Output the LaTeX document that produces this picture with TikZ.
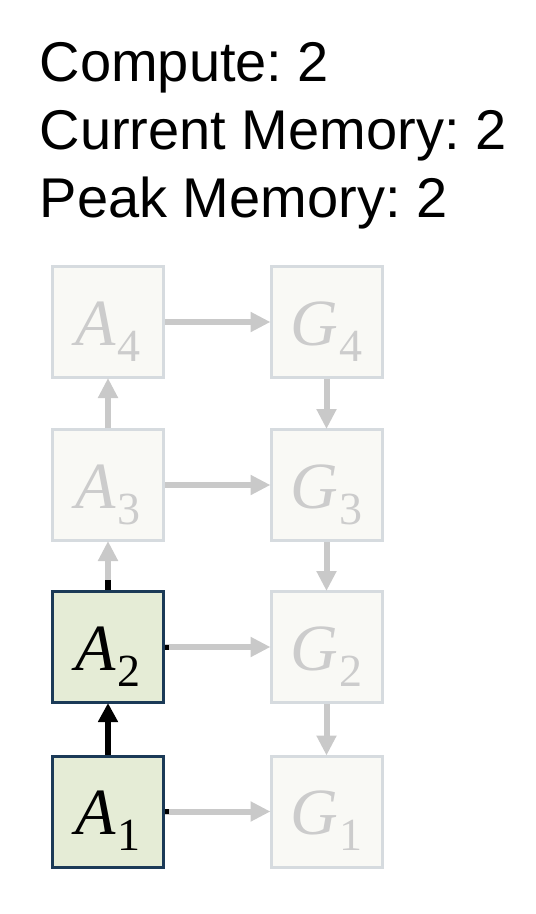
\documentclass[tikz,border=0pt]{standalone}
\usepackage{fontspec}
\setmainfont{Liberation Sans}
\newfontfamily\lblfont{Liberation Serif}
\newcommand{\lbl}[2]{{\lblfont\fontsize{66}{66}\selectfont\itshape #1\kern1pt\raisebox{-16pt}{\upshape\fontsize{46}{46}\selectfont #2}}}
\frenchspacing
\usetikzlibrary{arrows.meta}
\definecolor{actfill}{HTML}{E5ECD6}
\definecolor{actdraw}{HTML}{1B3A57}
\definecolor{offfill}{HTML}{F9F9F5}
\definecolor{offdraw}{HTML}{D6DBDF}
\definecolor{offtext}{HTML}{CCCCCC}
\definecolor{arrgray}{HTML}{C9C9C9}
\tikzset{
  cell/.style={rectangle, minimum size=111pt, inner sep=0pt, line width=3pt,
    text height=46pt, text depth=0pt},
  actcell/.style={cell, fill=actfill, draw=actdraw, text=black},
  offcell/.style={cell, fill=offfill, draw=offdraw, text=offtext},
  grayarr/.style={draw=arrgray, line width=6pt, -{Triangle[length=20pt,width=19pt]}, shorten >=-1pt},
  blackarr/.style={draw=black, line width=6pt, -{Triangle[length=19pt,width=19pt]}, shorten >=-1pt},
  stub/.style={draw=black, line width=6pt},
  hstub/.style={draw=black, line width=5pt},
  stat/.style={anchor=base west, inner sep=0pt, font=\fontsize{56}{64}\selectfont}
}
\begin{document}
\begin{tikzpicture}[x=1pt,y=-1pt]
\useasboundingbox (0,0) rectangle (536,914);
\node[stat] (t1) at (39.5,81) {Compute: 2};
\node[stat] (t2) at (39.5,149) {Current Memory: 2};
\node[stat] (t3) at (39.5,217) {Peak Memory: 2};

\node[offcell] (A4) at (108,322) {\lbl{A}{4}};
\node[offcell] (A3) at (108,485) {\lbl{A}{3}};
\node[actcell] (A2) at (108,647) {\lbl{A}{2}};
\node[actcell] (A1) at (108,811.5) {\lbl{A}{1}};
\node[offcell] (G4) at (326.5,322) {\lbl{G}{4}};
\node[offcell] (G3) at (326.5,485) {\lbl{G}{3}};
\node[offcell] (G2) at (326.5,647) {\lbl{G}{2}};
\node[offcell] (G1) at (326.5,811.5) {\lbl{G}{1}};

% forward chain
\draw[grayarr] (A3.north) -- (A4.south);
\draw[grayarr] (A2.north) -- (A3.south);
\draw[stub] (A2.north) -- ++(0,-10) coordinate (s2);
\draw[blackarr] (A1.north) -- (A2.south);

% activations to gradients
\draw[grayarr] (A4.east) -- (G4.west);
\draw[grayarr] (A3.east) -- (G3.west);
\draw[grayarr] (A2.east) -- (G2.west);
\draw[grayarr] (A1.east) -- (G1.west);
\draw[hstub] (A2.east) -- ++(3.5,0) coordinate (h2);
\draw[hstub] (A1.east) -- ++(3.5,0) coordinate (h1);

% backward chain
\draw[grayarr] (G4.south) -- (G3.north);
\draw[grayarr] (G3.south) -- (G2.north);
\draw[grayarr] (G2.south) -- (G1.north);
\end{tikzpicture}
\end{document}
